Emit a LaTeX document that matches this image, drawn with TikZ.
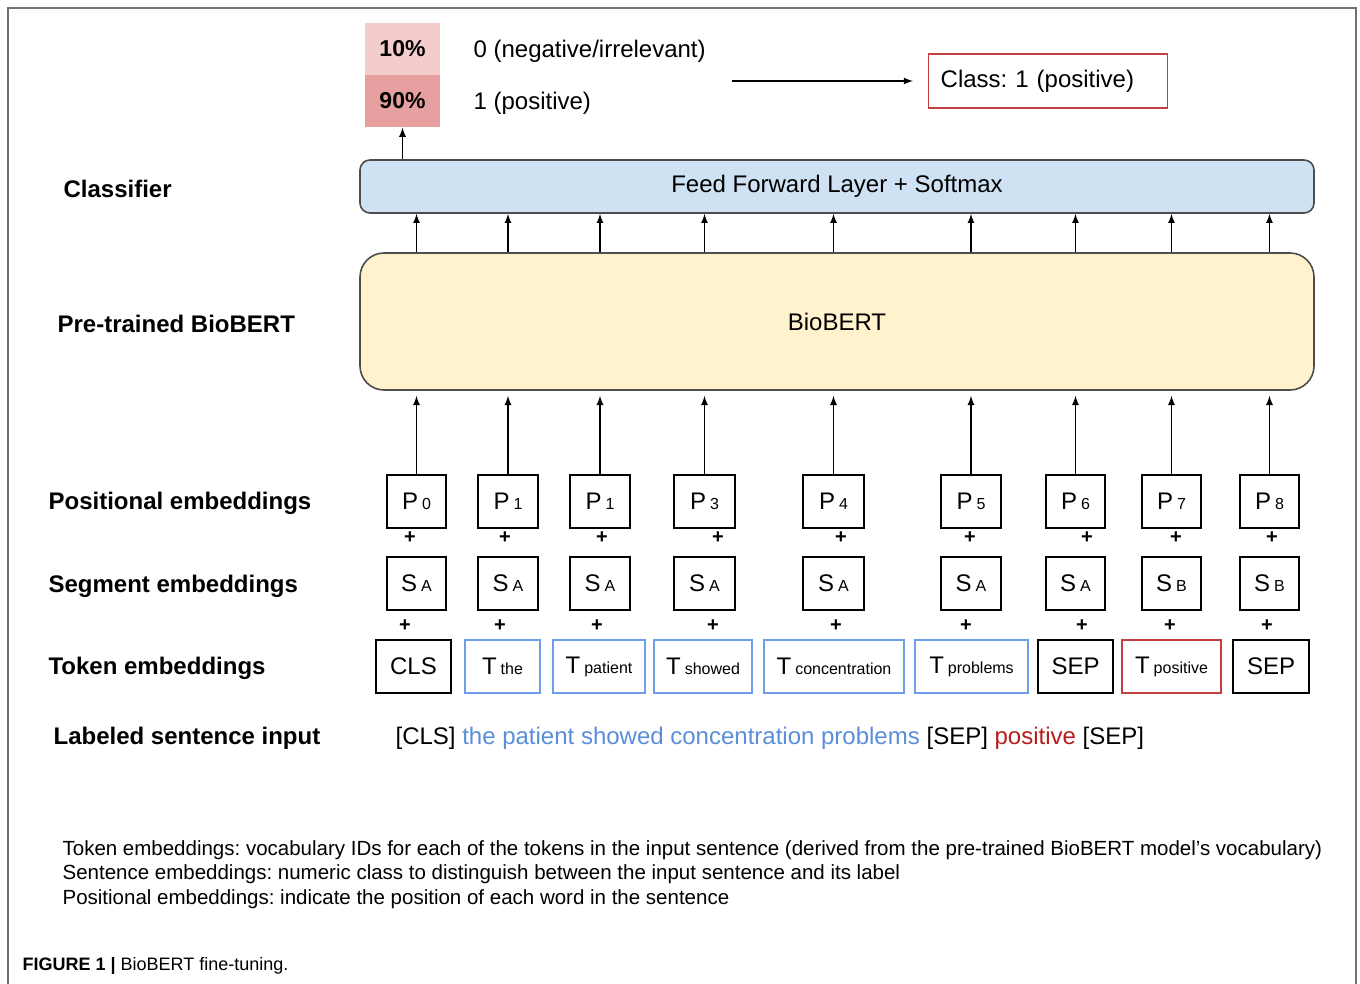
\documentclass[tikz,border=0pt]{standalone}
\usepackage{fontspec}
\setmainfont{Liberation Sans}
\frenchspacing

\definecolor{ffblue}{HTML}{CFE2F3}
\definecolor{bertyellow}{HTML}{FFF2CC}
\definecolor{edgegray}{HTML}{4D4D4D}
\definecolor{tokblue}{HTML}{6D9EEB}
\definecolor{textblue}{HTML}{5A8ED9}
\definecolor{posred}{HTML}{B81C1C}
\definecolor{pinklight}{HTML}{F4CCCC}
\definecolor{pinkdark}{HTML}{E6A0A0}

\newcommand{\sml}[1]{{\fontsize{8}{8}\selectfont #1}}

\tikzset{
	emb/.style={draw, line width=0.7pt, minimum height=26.5pt, inner sep=0pt},
	rowlabel/.style={anchor=west, inner sep=0pt, font=\fontsize{12}{14}\selectfont\bfseries},
	plus/.style={inner sep=0pt, font=\fontsize{10}{12}\selectfont\bfseries},
	prob/.style={minimum width=37.5pt, minimum height=26pt, inner sep=0pt, font=\fontsize{11.5}{13}\selectfont\bfseries},
}

\begin{document}
\begin{tikzpicture}[x=0.5pt, y=-0.5pt, >=latex, line width=0.6pt, font=\fontsize{12}{14}\selectfont]
	\useasboundingbox (0,0) rectangle (1360,984);
	\draw[edgegray!80, line width=1pt] (8,984) -- (8,8) -- (1356,8) -- (1356,984);

	\node[prob, fill=pinklight] (p10) at (402.5,49) {10\%};
	\node[prob, fill=pinkdark] (p90) at (402.5,101) {90\%};
	\node[anchor=west, inner sep=0pt] (neg) at (473,51) {0 (negative/irrelevant)};
	\node[anchor=west, inner sep=0pt] (pos) at (473,103) {1 (positive)};
	\coordinate (resstart) at (732,81);
	\node[draw=posred!85, line width=0.7pt, anchor=west, text width=107.5pt, align=left, inner xsep=6pt, minimum height=27pt] (result) at (928,81) {Class: 1 (positive)};
	\draw[->] (resstart) -- ([xshift=-7.5pt]result.west);

	\node[draw=edgegray, line width=0.8pt, fill=ffblue, rounded corners=5pt, minimum width=477pt, minimum height=26.5pt] (ff) at (837,186.5) {\raisebox{-1pt}{Feed Forward Layer + Softmax}};
	\node[draw=edgegray, line width=0.8pt, fill=bertyellow, rounded corners=12pt, minimum width=477pt, minimum height=68.5pt] (bert) at (837,321.5) {BioBERT};

	\node[rowlabel] (lclass) at (63,189) {Classifier};
	\node[rowlabel] (lbert) at (57,324) {Pre-trained BioBERT};
	\node[rowlabel] (lpos) at (48,503) {Positional embeddings};
	\node[rowlabel] (lseg) at (48,586) {Segment embeddings};
	\node[rowlabel] (ltok) at (48,668) {Token embeddings};
	\node[rowlabel] (lsent) at (53,738) {Labeled sentence input};

	% positional embeddings
	\node[emb, minimum width=29.5pt] (p0) at (416.5,501.5) {P\,\sml{0}};
	\node[emb, minimum width=30pt] (p1) at (508,501.5) {P\,\sml{1}};
	\node[emb, minimum width=30pt] (p2) at (600,501.5) {P\,\sml{1}};
	\node[emb, minimum width=30.5pt] (p3) at (704.5,501.5) {P\,\sml{3}};
	\node[emb, minimum width=30.5pt] (p4) at (833.5,501.5) {P\,\sml{4}};
	\node[emb, minimum width=30pt] (p5) at (971,501.5) {P\,\sml{5}};
	\node[emb, minimum width=29.5pt] (p6) at (1075.5,501.5) {P\,\sml{6}};
	\node[emb, minimum width=29.5pt] (p7) at (1171.5,501.5) {P\,\sml{7}};
	\node[emb, minimum width=29.5pt] (p8) at (1269.5,501.5) {P\,\sml{8}};

	% segment embeddings
	\node[emb, minimum width=29.5pt] (s0) at (416.5,583.5) {S\,\sml{A}};
	\node[emb, minimum width=30pt] (s1) at (508,583.5) {S\,\sml{A}};
	\node[emb, minimum width=30pt] (s2) at (600,583.5) {S\,\sml{A}};
	\node[emb, minimum width=30.5pt] (s3) at (704.5,583.5) {S\,\sml{A}};
	\node[emb, minimum width=30.5pt] (s4) at (833.5,583.5) {S\,\sml{A}};
	\node[emb, minimum width=30pt] (s5) at (971,583.5) {S\,\sml{A}};
	\node[emb, minimum width=29.5pt] (s6) at (1075.5,583.5) {S\,\sml{A}};
	\node[emb, minimum width=29.5pt] (s7) at (1171.5,583.5) {S\,\sml{B}};
	\node[emb, minimum width=29.5pt] (s8) at (1269.5,583.5) {S\,\sml{B}};

	% token embeddings
	\node[emb, minimum width=37.5pt] (t0) at (413.5,666.5) {CLS};
	\node[emb, draw=tokblue, minimum width=37.5pt] (t1) at (502.5,666.5) {T\,\sml{the}};
	\node[emb, draw=tokblue, minimum width=46pt] (t2) at (599,666.5) {T\,\sml{patient}};
	\node[emb, draw=tokblue, minimum width=49pt] (t3) at (703,666.5) {T\,\sml{showed}};
	\node[emb, draw=tokblue, minimum width=70pt] (t4) at (834,666.5) {T\,\sml{concentration}};
	\node[emb, draw=tokblue, minimum width=56.5pt] (t5) at (971.5,666.5) {T\,\sml{problems}};
	\node[emb, minimum width=37.5pt] (t6) at (1075.5,666.5) {SEP};
	\node[emb, draw=posred!85, minimum width=49.5pt] (t7) at (1171.5,666.5) {T\,\sml{positive}};
	\node[emb, minimum width=38pt] (t8) at (1271,666.5) {SEP};

	\node[plus] (a0) at (410,538) {+};
	\node[plus] (a1) at (505,538) {+};
	\node[plus] (a2) at (602,538) {+};
	\node[plus] (a3) at (718,538) {+};
	\node[plus] (a4) at (841,538) {+};
	\node[plus] (a5) at (970,538) {+};
	\node[plus] (a6) at (1087,538) {+};
	\node[plus] (a7) at (1176,538) {+};
	\node[plus] (a8) at (1272,538) {+};

	\node[plus] (b0) at (405,626) {+};
	\node[plus] (b1) at (500,626) {+};
	\node[plus] (b2) at (597,626) {+};
	\node[plus] (b3) at (713,626) {+};
	\node[plus] (b4) at (836,626) {+};
	\node[plus] (b5) at (966,626) {+};
	\node[plus] (b6) at (1082,626) {+};
	\node[plus] (b7) at (1170,626) {+};
	\node[plus] (b8) at (1267,626) {+};

	% into BioBERT
	\draw[->] (p0.north) -- ([yshift=-2.5pt]p0.north |- bert.south);
	\draw[->] (p1.north) -- ([yshift=-2.5pt]p1.north |- bert.south);
	\draw[->] (p2.north) -- ([yshift=-2.5pt]p2.north |- bert.south);
	\draw[->] (p3.north) -- ([yshift=-2.5pt]p3.north |- bert.south);
	\draw[->] (p4.north) -- ([yshift=-2.5pt]p4.north |- bert.south);
	\draw[->] (p5.north) -- ([yshift=-2.5pt]p5.north |- bert.south);
	\draw[->] (p6.north) -- ([yshift=-2.5pt]p6.north |- bert.south);
	\draw[->] (p7.north) -- ([yshift=-2.5pt]p7.north |- bert.south);
	\draw[->] (p8.north) -- ([yshift=-2.5pt]p8.north |- bert.south);

	% into the classifier
	\draw[->] (bert.north -| p0) -- (ff.south -| p0);
	\draw[->] (bert.north -| p1) -- (ff.south -| p1);
	\draw[->] (bert.north -| p2) -- (ff.south -| p2);
	\draw[->] (bert.north -| p3) -- (ff.south -| p3);
	\draw[->] (bert.north -| p4) -- (ff.south -| p4);
	\draw[->] (bert.north -| p5) -- (ff.south -| p5);
	\draw[->] (bert.north -| p6) -- (ff.south -| p6);
	\draw[->] (bert.north -| p7) -- (ff.south -| p7);
	\draw[->] (bert.north -| p8) -- (ff.south -| p8);
	\draw[->] (ff.north -| p90) -- (p90.south);

	\node[anchor=west, inner sep=0pt] (sent) at (395,738) {[CLS] \textcolor{textblue}{the patient showed concentration problems} [SEP] \textcolor{posred}{positive} [SEP]};

	\node[anchor=north west, inner sep=0pt, align=left, font=\fontsize{10.25}{12.25}\selectfont] (notes) at (62,840) {Token embeddings: vocabulary IDs for each of the tokens in the input sentence (derived from the pre-trained BioBERT model's vocabulary)\\Sentence embeddings: numeric class to distinguish between the input sentence and its label\\Positional embeddings: indicate the position of each word in the sentence};

	\node[anchor=west, inner sep=0pt, font=\fontsize{9}{11}\selectfont] (caption) at (22,966) {\textbf{FIGURE 1 |} BioBERT fine-tuning.};
\end{tikzpicture}
\end{document}
